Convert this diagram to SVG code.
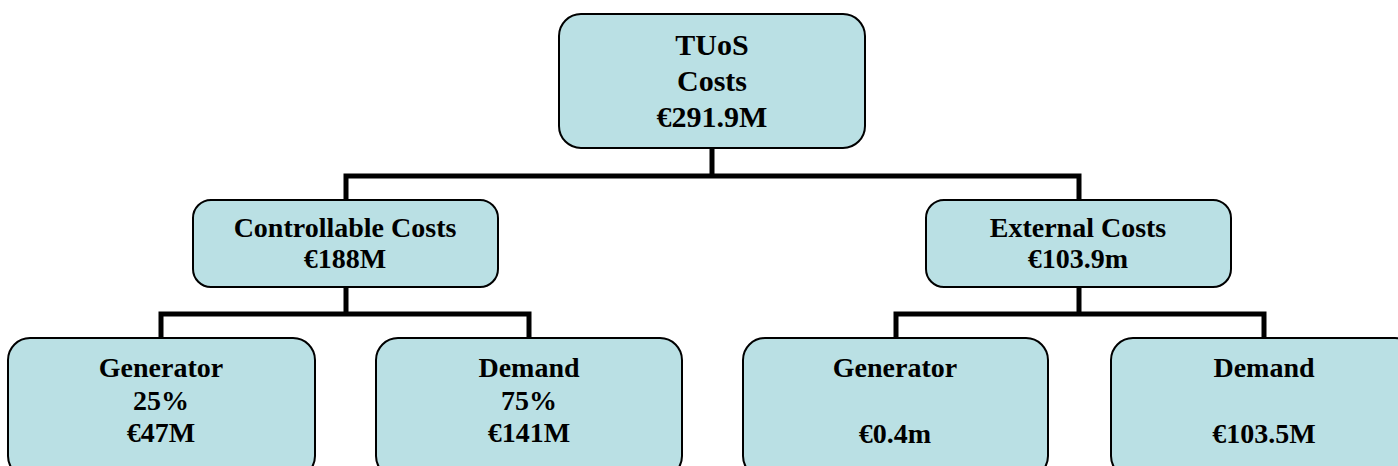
<svg xmlns="http://www.w3.org/2000/svg" width="1398" height="466" viewBox="0 0 1398 466">
<style>
.box{fill:#BAE0E4;stroke:#000;stroke-width:2}
.conn{fill:none;stroke:#000;stroke-width:5;stroke-linejoin:miter;stroke-linecap:square}
text{font-family:"Liberation Serif","Times New Roman",serif;font-weight:bold;fill:#000;text-anchor:middle}
.t28{font-size:28px}
.t30{font-size:30px}
</style>
<rect width="1398" height="466" fill="#fff"/>
<g id="connectors">
<path class="conn" d="M712,148 V176 M346,176 H1079 M346,176 V200 M1079,176 V200"/>
<path class="conn" d="M346,287 V314 M161,314 H529 M161,314 V338 M529,314 V338"/>
<path class="conn" d="M1079,287 V314 M896,314 H1264 M896,314 V338 M1264,314 V338"/>
</g>
<g id="tuos">
<rect class="box" x="559" y="14" width="306" height="134" rx="22"/>
<text class="t30" x="712" y="55">TUoS</text>
<text class="t30" x="712" y="91">Costs</text>
<text class="t30" x="712" y="127">€291.9M</text>
</g>
<g id="controllable">
<rect class="box" x="193" y="200" width="305" height="87" rx="18"/>
<text class="t28" x="345" y="237">Controllable Costs</text>
<text class="t28" x="345" y="268">€188M</text>
</g>
<g id="external">
<rect class="box" x="926" y="200" width="305" height="87" rx="18"/>
<text class="t28" x="1078" y="237">External Costs</text>
<text class="t28" x="1078" y="268">€103.9m</text>
</g>
<g id="gen-controllable">
<rect class="box" x="8" y="338" width="307" height="140" rx="22"/>
<text class="t28" x="161" y="377">Generator</text>
<text class="t28" x="161" y="410">25%</text>
<text class="t28" x="161" y="442">€47M</text>
</g>
<g id="dem-controllable">
<rect class="box" x="376" y="338" width="306" height="140" rx="22"/>
<text class="t28" x="529" y="377">Demand</text>
<text class="t28" x="529" y="410">75%</text>
<text class="t28" x="529" y="442">€141M</text>
</g>
<g id="gen-external">
<rect class="box" x="743" y="338" width="305" height="140" rx="22"/>
<text class="t28" x="895" y="377">Generator</text>
<text class="t28" x="895" y="443">€0.4m</text>
</g>
<g id="dem-external">
<rect class="box" x="1111" y="338" width="306" height="140" rx="22"/>
<text class="t28" x="1264" y="377">Demand</text>
<text class="t28" x="1264" y="443">€103.5M</text>
</g>
</svg>
